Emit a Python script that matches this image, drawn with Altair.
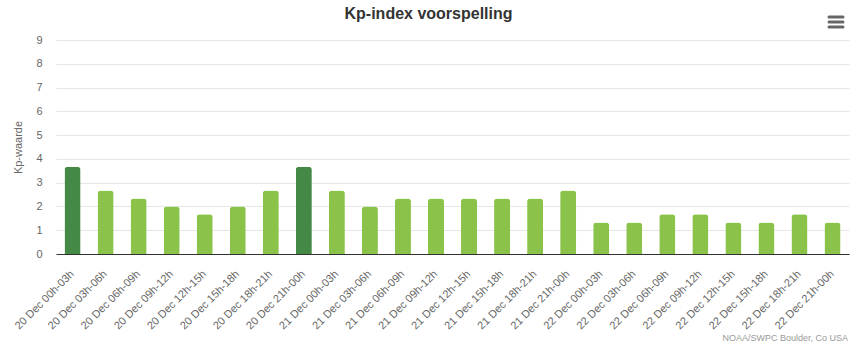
import altair as alt
import pandas as pd

periods = [
    "20 Dec 00h-03h", "20 Dec 03h-06h", "20 Dec 06h-09h", "20 Dec 09h-12h",
    "20 Dec 12h-15h", "20 Dec 15h-18h", "20 Dec 18h-21h", "20 Dec 21h-00h",
    "21 Dec 00h-03h", "21 Dec 03h-06h", "21 Dec 06h-09h", "21 Dec 09h-12h",
    "21 Dec 12h-15h", "21 Dec 15h-18h", "21 Dec 18h-21h", "21 Dec 21h-00h",
    "22 Dec 00h-03h", "22 Dec 03h-06h", "22 Dec 06h-09h", "22 Dec 09h-12h",
    "22 Dec 12h-15h", "22 Dec 15h-18h", "22 Dec 18h-21h", "22 Dec 21h-00h",
]
kp = [3.67, 2.67, 2.33, 2.00, 1.67, 2.00, 2.67, 3.67,
      2.67, 2.00, 2.33, 2.33, 2.33, 2.33, 2.33, 2.67,
      1.33, 1.33, 1.67, 1.67, 1.33, 1.33, 1.67, 1.33]
colors = ["#448a46" if v >= 3.5 else "#8bc34a" for v in kp]
title_text = ["Kp-index voorspelling"]
credit_text = ["NOAA/SWPC Boulder, Co USA"]

df = pd.DataFrame({"period": periods, "kp": kp, "color": colors})

FONT = "Liberation Sans"
W, H = 793, 214

bars = alt.Chart(df).mark_bar(
    cornerRadiusTopLeft=3, cornerRadiusTopRight=3
).encode(
    x=alt.X("period:N", sort=periods,
            scale=alt.Scale(paddingInner=0.515, paddingOuter=0.2575),
            axis=alt.Axis(title=None, labelAngle=-45, labelAlign="right",
                          labelBaseline="middle", labelPadding=18, labelOffset=0,
                          labelFont=FONT, labelFontSize=11, labelColor="#666666",
                          ticks=False, domainColor="#333333", domainWidth=1,
                          labelOverlap=False, grid=False)),
    y=alt.Y("kp:Q", scale=alt.Scale(domain=[0, 9], nice=False),
            axis=alt.Axis(title="Kp-waarde", values=list(range(10)),
                          tickCount=10, ticks=False, domain=False,
                          labelPadding=14, labelFont=FONT, labelFontSize=11,
                          labelColor="#666666", gridColor="#e6e6e6",
                          titleFont=FONT, titleFontSize=11, titleFontWeight="normal",
                          titleColor="#666666", titleAngle=-90, titleX=-38,
                          titleY=107, titleBaseline="middle", titleAlign="center")),
    color=alt.Color("color:N", scale=None),
)

title = alt.Chart(pd.DataFrame({"t": title_text})).mark_text(
    align="center", baseline="middle", font=FONT, fontSize=16,
    fontWeight="bold", color="#333333"
).encode(x=alt.value(372.5), y=alt.value(-26), text="t:N")

credits = alt.Chart(pd.DataFrame({"t": credit_text})).mark_text(
    align="right", baseline="middle", font=FONT, fontSize=9, color="#999999"
).encode(x=alt.value(792), y=alt.value(298), text="t:N")

menu_layers = [
    alt.Chart(pd.DataFrame({"k": [0]})).mark_rule(
        color="#666666", strokeWidth=3, strokeCap="round"
    ).encode(x=alt.value(773), x2=alt.value(787), y=alt.value(yy))
    for yy in (-23, -18, -13)
]

chart = alt.layer(bars, title, credits, *menu_layers).properties(
    width=W, height=H,
    background="white",
    autosize=alt.AutoSizeParams(type="none"),
    padding={"left": 56, "top": 40, "right": 8, "bottom": 97},
).configure_view(stroke="transparent", strokeWidth=0)

chart.save("out.html", embed_options={"renderer": "svg", "actions": False})
